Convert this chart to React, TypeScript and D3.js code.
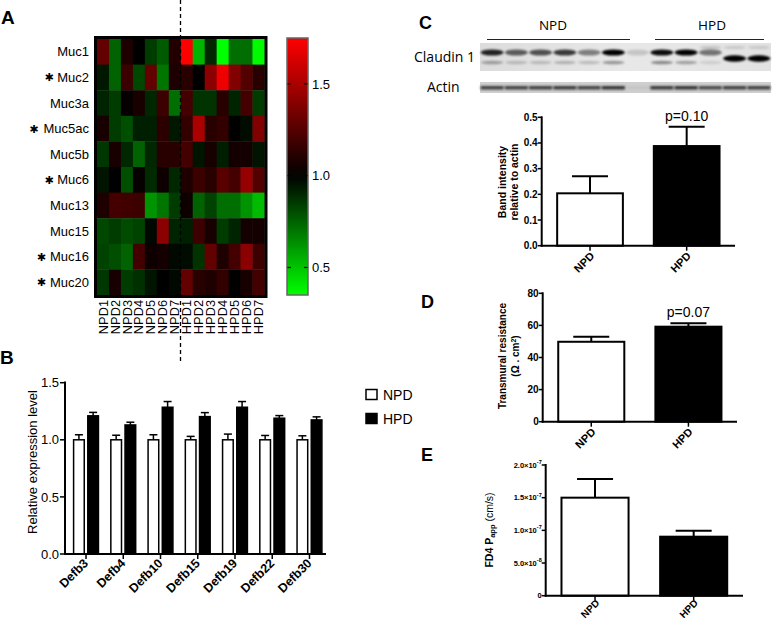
import React from "react";
import * as d3 from "d3";

// ---------- Panel A data ----------
const mucGenes = ["Muc1", "Muc2", "Muc3a", "Muc5ac", "Muc5b", "Muc6", "Muc13", "Muc15", "Muc16", "Muc20"];
const mucSignificant = [false, true, false, true, false, true, false, false, true, true];
const samples = ["NPD1", "NPD2", "NPD3", "NPD4", "NPD5", "NPD6", "NPD7", "HPD1", "HPD2", "HPD3", "HPD4", "HPD5", "HPD6", "HPD7"];
const mucExpression: number[][] = [
  [1.29, 0.75, 1.09, 1.0, 0.85, 0.77, 1.1, 1.75, 0.54, 0.9, 0.35, 0.72, 0.72, 0.36],
  [0.94, 0.75, 1.18, 0.82, 1.29, 0.7, 1.09, 1.12, 1.0, 1.41, 1.7, 1.38, 1.24, 1.12],
  [0.91, 0.85, 1.02, 1.07, 0.9, 1.18, 0.72, 1.2, 0.87, 0.87, 1.12, 0.91, 1.2, 0.85],
  [1.07, 0.85, 0.8, 0.92, 0.92, 1.13, 0.94, 1.15, 1.5, 1.12, 1.15, 1.0, 0.97, 1.38],
  [0.86, 1.07, 0.9, 0.75, 0.9, 1.12, 1.12, 1.2, 0.95, 1.07, 0.92, 1.06, 1.06, 0.95],
  [0.95, 1.0, 0.8, 1.02, 0.89, 1.04, 0.9, 1.09, 1.18, 1.12, 1.26, 1.2, 1.44, 1.24],
  [1.09, 1.2, 1.19, 1.18, 0.62, 0.7, 0.85, 1.04, 0.75, 0.83, 0.72, 0.72, 0.62, 0.52],
  [0.82, 0.85, 0.81, 0.83, 0.98, 1.41, 0.91, 0.92, 1.18, 1.07, 0.85, 0.91, 1.06, 1.06],
  [0.83, 0.8, 0.75, 1.2, 1.04, 1.06, 0.98, 0.97, 0.87, 1.29, 1.09, 1.2, 1.41, 1.18],
  [0.86, 1.07, 0.85, 0.88, 0.95, 1.0, 0.98, 1.29, 1.12, 1.09, 1.15, 1.0, 1.07, 1.2],
];
const colorDomain = [0.35, 1.0, 1.75];
const colorbarTicks = [0.5, 1.0, 1.5];

// ---------- Panel B data ----------
const defbGenes = ["Defb3", "Defb4", "Defb10", "Defb15", "Defb19", "Defb22", "Defb30"];
const defbNPD = [1.0, 1.0, 1.0, 1.0, 1.0, 1.0, 1.0];
const defbNPDErr = [0.044, 0.04, 0.044, 0.03, 0.05, 0.038, 0.035];
const defbHPD = [1.21, 1.13, 1.285, 1.203, 1.285, 1.189, 1.174];
const defbHPDErr = [0.03, 0.024, 0.05, 0.035, 0.05, 0.023, 0.027];
const defbTicks = [0, 0.5, 1.0, 1.5];
const groups = ["NPD", "HPD"];

// ---------- Panel C blot (relative band intensities per lane) ----------
const blotLanes = ["n1", "n2", "n3", "n4", "n5", "n6", "m", "h1", "h2", "h3", "h4", "h5"];
const claudinUpper = [0.85, 0.6, 0.65, 0.75, 0.45, 1.0, 0.15, 0.95, 1.0, 0.5, 0.0, 0.0];
const claudinShifted = [0, 0, 0, 0, 0, 0, 0, 0, 0, 0, 1.0, 1.0];
const claudinLower = [0.3, 0.18, 0.18, 0.22, 0.18, 0.35, 0, 0.4, 0.3, 0.1, 0, 0];
const claudinFaint = [0, 0, 0, 0, 0, 0, 0, 0, 0, 0.15, 0.12, 0.12];
const actinBand = [0.8, 0.78, 0.8, 0.82, 0.78, 0.85, 0.05, 0.82, 0.85, 0.75, 0.8, 0.8];

// ---------- Panels C, D, E data ----------
const claudinMean = [0.204, 0.388];
const claudinErr = [0.066, 0.075];
const claudinTicks = [0, 0.1, 0.2, 0.3, 0.4, 0.5];
const terMean = [49.8, 59.2];
const terErr = [3.2, 2.1];
const terTicks = [0, 20, 40, 60, 80];
const fd4Mean = [1.5e-7, 0.903e-7];
const fd4Err = [0.286e-7, 0.092e-7];
const fd4Ticks = [0, 5e-8, 1e-7, 1.5e-7, 2e-7];

const FONT = "'Liberation Sans', Arial, sans-serif";

function sciLabel(v: number) {
  if (v === 0) return <tspan>0</tspan>;
  const e = Math.floor(Math.log10(v) + 1e-9);
  const m = v / Math.pow(10, e);
  return (
    <>
      <tspan>{m.toFixed(1) + "\u00d710"}</tspan>
      <tspan dy={-3.5} fontSize={5.5}>{String(e)}</tspan>
    </>
  );
}

type BarProps = {
  left: number; right: number; top: number; bottom: number; ymax: number;
  ticks: number[]; fmt: (v: number) => React.ReactNode; means: number[]; errs: number[];
  p?: string; ylabel: React.ReactNode; tickFont?: number; xFont?: number; xOff?: number;
};

function BarPanel({ left, right, top, bottom, ymax, ticks, fmt, means, errs, p, ylabel, tickFont = 10, xFont = 11, xOff = 11 }: BarProps) {
  const x = d3.scaleBand<string>().domain(groups).range([left, right]).paddingInner(0.32).paddingOuter(0.16);
  const y = d3.scaleLinear().domain([0, ymax]).range([bottom, top]);
  const bw = x.bandwidth();
  return (
    <g fontFamily={FONT}>
      {means.map((m, i) => {
        const g = groups[i];
        const bx = x(g)!;
        const cx = bx + bw / 2;
        const ye = y(m + errs[i]);
        return (
          <g key={g}>
            <line x1={cx} x2={cx} y1={y(m)} y2={ye} stroke="#000" strokeWidth={2} />
            <line x1={cx - 18} x2={cx + 18} y1={ye} y2={ye} stroke="#000" strokeWidth={2} />
            <rect x={bx} y={y(m)} width={bw} height={y(0) - y(m)} fill={i === 0 ? "#fff" : "#000"} stroke="#000" strokeWidth={2} />
            <line x1={cx} x2={cx} y1={bottom} y2={bottom + 5} stroke="#000" strokeWidth={1.5} />
            <text transform={`translate(${cx + 5},${bottom + xOff}) rotate(-45)`} textAnchor="end" fontSize={xFont} fontWeight="bold">{g}</text>
            {p && i === 1 ? (
              <text x={cx} y={ye - 6} textAnchor="middle" fontSize={14}>{p}</text>
            ) : null}
          </g>
        );
      })}
      <line x1={left} x2={left} y1={top - 1} y2={bottom + 1} stroke="#000" strokeWidth={2} />
      <line x1={left - 1} x2={right} y1={bottom} y2={bottom} stroke="#000" strokeWidth={2} />
      {ticks.map((t) => (
        <g key={t}>
          <line x1={left - 4} x2={left} y1={y(t)} y2={y(t)} stroke="#000" strokeWidth={1.5} />
          <text x={left - 4} y={y(t)} dy="0.35em" textAnchor="end" fontSize={tickFont} fontWeight="bold">{fmt(t)}</text>
        </g>
      ))}
      {ylabel}
    </g>
  );
}

export default function App() {
  // ---------- Panel A ----------
  const hx = d3.scaleBand<string>().domain(samples).range([97, 264.5]);
  const hy = d3.scaleBand<string>().domain(mucGenes).range([39, 295]);
  const color = d3.scaleLinear<string>().domain(colorDomain).range(["#00ff00", "#000000", "#ff0000"]).clamp(true);
  const cbY = d3.scaleLinear().domain([colorDomain[0], colorDomain[2]]).range([295, 38]);
  const gradStops = d3.range(0, 1.0001, 0.05).map((t) => {
    const v = colorDomain[2] - t * (colorDomain[2] - colorDomain[0]);
    return { off: t, c: color(v) };
  });

  // ---------- Panel B ----------
  const bx0 = d3.scaleBand<string>().domain(defbGenes).range([67.4, 328.1]);
  const bx1 = d3.scaleBand<string>().domain(groups).range([6.2, bx0.bandwidth() - 6.2]).paddingInner(0.25);
  const by = d3.scaleLinear().domain([0, 1.5]).range([554, 382.7]);
  const bLeft = 65, bRight = 326;

  // ---------- Blot ----------
  const lx = d3.scaleBand<string>().domain(blotLanes).range([480, 771]);

  return (
    <svg width={778} height={623} style={{ position: "absolute", left: 0, top: 0, background: "#fff" }} fontFamily={FONT}>
      <defs>
        <linearGradient id="cbar" x1="0" y1="0" x2="0" y2="1">
          {gradStops.map((s, i) => (
            <stop key={i} offset={s.off} stopColor={s.c} />
          ))}
        </linearGradient>
        <filter id="blur" x="-20%" y="-50%" width="140%" height="200%">
          <feGaussianBlur stdDeviation="1.1" />
        </filter>
        <linearGradient id="blotbg" x1="0" y1="0" x2="1" y2="0">
          <stop offset="0" stopColor="#dcdcdc" />
          <stop offset="0.5" stopColor="#e8e8e8" />
          <stop offset="1" stopColor="#e2e2e2" />
        </linearGradient>
      </defs>
      <rect width={778} height={623} fill="#fff" />

      {/* Panel letters */}
      <text x={1} y={24} fontSize={19} fontWeight="bold">A</text>
      <text x={0} y={363.5} fontSize={19} fontWeight="bold">B</text>
      <text x={419} y={28.5} fontSize={18} fontWeight="bold">C</text>
      <text x={421} y={308} fontSize={18} fontWeight="bold">D</text>
      <text x={421} y={461} fontSize={18} fontWeight="bold">E</text>

      {/* ---------- Panel A heatmap ---------- */}
      <g>
        {mucExpression.map((row, ri) =>
          row.map((v, ci) => (
            <rect key={`${ri}-${ci}`} x={hx(samples[ci])!} y={hy(mucGenes[ri])!} width={hx.bandwidth() + 0.4} height={hy.bandwidth() + 0.4} fill={color(v)} />
          ))
        )}
        <rect x={95.5} y={37.5} width={170.5} height={259} fill="none" stroke="#000" strokeWidth={3} />
        {mucGenes.map((g, i) => (
          <g key={g}>
            <text x={89} y={hy(g)! + hy.bandwidth() / 2} dy="0.36em" textAnchor="end" fontSize={13}>{g}</text>
            {mucSignificant[i] ? (
              <text x={89 - g.length * 7.6 - 5} y={hy(g)! + hy.bandwidth() / 2} dy="0.36em" textAnchor="end" fontSize={11} fontFamily="'DejaVu Sans', sans-serif" fontWeight="bold">{"\u2731"}</text>
            ) : null}
          </g>
        ))}
        {samples.map((s) => (
          <text key={s} transform={`translate(${hx(s)! + hx.bandwidth() / 2 + 4.6},${300}) rotate(-90)`} textAnchor="end" fontSize={12.8}>{s}</text>
        ))}
        {/* colorbar */}
        <rect x={287} y={38} width={21} height={257} fill="url(#cbar)" stroke="#666" strokeWidth={1.5} />
        {colorbarTicks.map((t) => (
          <g key={t}>
            <line x1={287.5} x2={291} y1={cbY(t)} y2={cbY(t)} stroke="#000" strokeWidth={1.2} />
            <line x1={304} x2={307.5} y1={cbY(t)} y2={cbY(t)} stroke="#000" strokeWidth={1.2} />
            <text x={312} y={cbY(t)} dy="0.36em" fontSize={13}>{d3.format(".1f")(t)}</text>
          </g>
        ))}
        <line x1={180.5} x2={180.5} y1={0} y2={363} stroke="#000" strokeWidth={1.3} strokeDasharray="4,3" />
      </g>

      {/* ---------- Panel B ---------- */}
      <g>
        {defbGenes.map((g, i) => {
          const gx = bx0(g)!;
          const vals = [defbNPD[i], defbHPD[i]];
          const errs = [defbNPDErr[i], defbHPDErr[i]];
          return (
            <g key={g}>
              {groups.map((grp, j) => {
                const x = gx + bx1(grp)!;
                const w = bx1.bandwidth();
                const cx = x + w / 2;
                const ye = by(vals[j] + errs[j]);
                return (
                  <g key={grp}>
                    <line x1={cx} x2={cx} y1={by(vals[j])} y2={ye} stroke="#000" strokeWidth={1.5} />
                    <line x1={cx - 4} x2={cx + 4} y1={ye} y2={ye} stroke="#000" strokeWidth={1.5} />
                    <rect x={x} y={by(vals[j])} width={w} height={by(0) - by(vals[j])} fill={j === 0 ? "#fff" : "#000"} stroke="#000" strokeWidth={1.5} />
                  </g>
                );
              })}
              <line x1={gx + bx0.bandwidth() / 2} x2={gx + bx0.bandwidth() / 2} y1={554} y2={559} stroke="#000" strokeWidth={1.5} />
              <text transform={`translate(${gx + bx0.bandwidth() / 2 + 3},${564}) rotate(-45)`} textAnchor="end" fontSize={12.5} fontWeight="bold">{g}</text>
            </g>
          );
        })}
        <line x1={bLeft} x2={bLeft} y1={381.5} y2={555} stroke="#000" strokeWidth={2} />
        <line x1={bLeft - 1} x2={bRight} y1={554} y2={554} stroke="#000" strokeWidth={2} />
        {defbTicks.map((t) => (
          <g key={t}>
            <line x1={bLeft - 5} x2={bLeft} y1={by(t)} y2={by(t)} stroke="#000" strokeWidth={1.5} />
            <text x={bLeft - 6} y={by(t)} dy="0.36em" textAnchor="end" fontSize={13}>{d3.format(".1f")(t)}</text>
          </g>
        ))}
        <text transform={`translate(32,${462}) rotate(-90)`} dy="0.36em" textAnchor="middle" fontSize={13}>Relative expression level</text>
        {/* legend */}
        <rect x={366} y={389.5} width={11} height={10} fill="#fff" stroke="#000" strokeWidth={1.5} />
        <text x={383} y={400} fontSize={14}>NPD</text>
        <rect x={366} y={413.5} width={11} height={10} fill="#000" stroke="#000" strokeWidth={1.5} />
        <text x={383} y={424} fontSize={14}>HPD</text>
      </g>

      {/* ---------- Panel C blot ---------- */}
      <g fontFamily="'Open Sans', 'Noto Sans', sans-serif">
        <text x={553} y={30} textAnchor="middle" fontSize={13.5}>NPD</text>
        <text x={712} y={30} textAnchor="middle" fontSize={13.5}>HPD</text>
        <line x1={487} x2={630} y1={39.5} y2={39.5} stroke="#222" strokeWidth={1} />
        <line x1={655} x2={764} y1={39.5} y2={39.5} stroke="#222" strokeWidth={1} />
        <text x={414} y={62} fontSize={14}>Claudin 1</text>
        <text x={427} y={92} fontSize={14}>Actin</text>
        <rect x={480} y={43} width={291} height={28} fill="url(#blotbg)" />
        <rect x={480} y={82} width={291} height={11} fill="#cfcfcf" />
        <g filter="url(#blur)">
          {blotLanes.map((l, i) => {
            const cx = lx(l)! + lx.bandwidth() / 2;
            return (
              <g key={l}>
                <ellipse cx={cx} cy={52.5} rx={11.5} ry={3.1} fill="#000" opacity={claudinUpper[i]} />
                <ellipse cx={cx} cy={58.5} rx={11.5} ry={3.3} fill="#000" opacity={claudinShifted[i]} />
                <ellipse cx={cx} cy={47.5} rx={11} ry={1.6} fill="#000" opacity={claudinFaint[i]} />
                <ellipse cx={cx} cy={62.5} rx={11} ry={1.8} fill="#000" opacity={claudinLower[i]} />
                <rect x={cx - 11.5} y={86} width={23} height={3.5} fill="#1a1a1a" opacity={actinBand[i]} />
              </g>
            );
          })}
        </g>
      </g>

      {/* ---------- Panel C chart ---------- */}
      <BarPanel
        left={541.7} right={735} top={117.3} bottom={245.7} ymax={0.5}
        ticks={claudinTicks} fmt={(v) => d3.format(".1f")(v)}
        means={claudinMean} errs={claudinErr} p="p=0.10"
        ylabel={
          <g fontWeight="bold" fontSize={10.5}>
            <text transform="translate(502,182) rotate(-90)" dy="0.35em" textAnchor="middle">Band intensity</text>
            <text transform="translate(514,182) rotate(-90)" dy="0.35em" textAnchor="middle">relative to actin</text>
          </g>
        }
      />

      {/* ---------- Panel D ---------- */}
      <BarPanel
        left={542.7} right={737} top={293.3} bottom={421.7} ymax={80}
        ticks={terTicks} fmt={(v) => d3.format("d")(v)}
        means={terMean} errs={terErr} p="p=0.07"
        ylabel={
          <g fontWeight="bold" fontSize={10}>
            <text transform="translate(502,356) rotate(-90)" dy="0.35em" textAnchor="middle">Transmural resistance</text>
            <text transform="translate(515,356) rotate(-90)" dy="0.35em" textAnchor="middle">
              <tspan>{"(\u03a9 . cm"}</tspan>
              <tspan dy={-3} fontSize={7}>2</tspan>
              <tspan dy={3}>)</tspan>
            </text>
          </g>
        }
      />

      {/* ---------- Panel E ---------- */}
      <BarPanel
        left={545.7} right={743} top={465} bottom={595.7} ymax={2e-7}
        ticks={fd4Ticks} fmt={sciLabel} tickFont={7.5} xFont={10} xOff={8}
        means={fd4Mean} errs={fd4Err}
        ylabel={
          <text transform="translate(489,530) rotate(-90)" dy="0.35em" textAnchor="middle" fontSize={10.5}>
            <tspan fontWeight="bold">FD4 P</tspan>
            <tspan fontWeight="bold" fontSize={7.5} dy={2.5}>app</tspan>
            <tspan dy={-2.5}>{" (cm/s)"}</tspan>
          </text>
        }
      />
    </svg>
  );
}
